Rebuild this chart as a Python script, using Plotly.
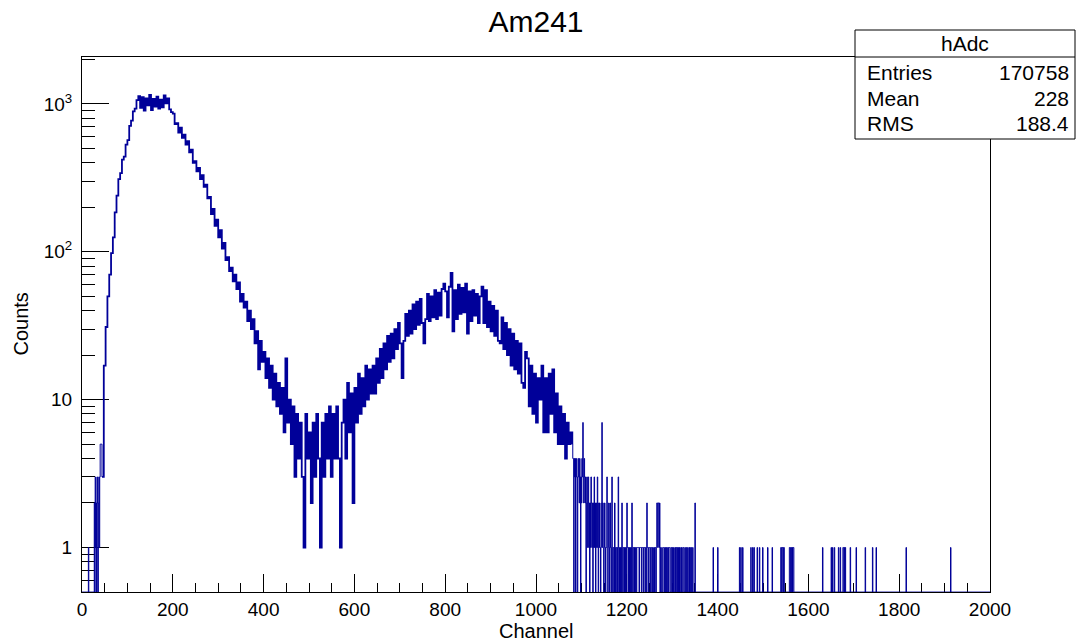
import numpy as np
import plotly.graph_objects as go

# ---------------- data ----------------
title_text = "Am241"
x_title = "Channel"
y_title = "Counts"
hist_name = "hAdc"
stat_labels = ["Entries", "Mean", "RMS"]
stat_values = ["170758", "228", "188.4"]

n_channels = 2000

# channels 0-39, one value per channel
low_counts = [0, 0, 0, 0, 0, 0, 0, 0, 0, 0,
              0, 0, 0, 0, 1, 0, 0, 0, 0, 0,
              0, 0, 0, 0, 0, 0, 0, 2, 0, 3,
              1, 2, 0, 3, 2, 0, 2, 3, 1, 3]

# channels 40-1079, one value per 4 channels
main_start = 40
main_bin_width = 4
main_counts = [
    5, 3, 17, 31, 50, 70, 98, 125, 185, 240,
    310, 340, 420, 440, 530, 570, 710, 770, 890, 930,
    1060, 1130, 940, 1110, 900, 1090, 980, 1150, 910, 1080,
    960, 1120, 930, 1070, 950, 1140, 1010, 1090, 920, 880,
    860, 730, 740, 640, 690, 590, 620, 530, 560, 470,
    490, 400, 410, 350, 370, 310, 330, 275, 285, 230,
    235, 180, 195, 150, 165, 125, 140, 105, 115, 88,
    92, 74, 78, 63, 70, 56, 62, 46, 52, 42,
    46, 34, 40, 30, 35, 24, 29, 16, 25, 18,
    21, 14, 19, 12, 17, 10, 15, 9, 13, 8,
    12, 6, 19, 7, 10, 5, 9, 3, 8, 4,
    7, 3, 1, 8, 4, 6, 2, 7, 3, 8,
    4, 1, 7, 3, 8, 4, 9, 3, 8, 4,
    9, 4, 1, 7, 10, 4, 13, 6, 11, 2,
    12, 7, 15, 8, 14, 9, 17, 10, 16, 11,
    17, 11, 19, 13, 22, 14, 24, 16, 27, 18,
    28, 19, 30, 22, 33, 24, 14, 25, 38, 27,
    40, 28, 44, 30, 46, 32, 48, 33, 24, 35,
    52, 34, 50, 36, 55, 35, 53, 37, 56, 61,
    54, 36, 58, 72, 29, 55, 35, 60, 38, 57,
    39, 61, 28, 54, 34, 55, 37, 52, 33, 50,
    58, 33, 55, 31, 46, 29, 43, 27, 40, 25,
    24, 36, 22, 33, 20, 30, 17, 28, 16, 25,
    15, 24, 13, 12, 21, 19, 9, 17, 8, 15,
    7, 14, 10, 17, 6, 14, 6, 15, 8, 16,
    6, 11, 5, 9, 5, 8, 4, 7, 5, 6,
]

# channels 1080-1349, one value per channel
edge_start = 1080
edge_counts = [
    5, 4, 4, 0, 4, 3, 4, 0, 3, 4,
    3, 0, 3, 4, 3, 2, 4, 3, 0, 3,
    2, 4, 3, 7, 3, 2, 4, 3, 2, 3,
    0, 2, 3, 1, 2, 3, 1, 2, 0, 2,
    1, 3, 2, 1, 2, 0, 2, 1, 3, 1,
    2, 0, 1, 2, 1, 3, 1, 0, 2, 1,
    2, 1, 0, 1, 2, 7, 1, 2, 1, 0,
    1, 2, 1, 0, 1, 1, 3, 1, 0, 1,
    2, 1, 0, 2, 1, 1, 0, 3, 1, 0,
    1, 1, 0, 2, 1, 0, 1, 1, 0, 1,
    0, 3, 1, 0, 1, 1, 0, 1, 0, 2,
    1, 0, 1, 1, 0, 1, 1, 0, 1, 0,
    2, 1, 1, 0, 1, 0, 1, 1, 0, 1,
    0, 2, 1, 0, 1, 1, 0, 1, 0, 1,
    1, 0, 1, 1, 1, 1, 1, 0, 1, 1,
    1, 1, 0, 1, 1, 1, 0, 1, 1, 1,
    0, 1, 1, 0, 2, 1, 1, 0, 1, 1,
    1, 0, 1, 1, 1, 0, 1, 0, 0, 1,
    1, 0, 1, 1, 0, 1, 2, 2, 1, 2,
    2, 1, 2, 0, 1, 0, 0, 1, 0, 0,
    1, 1, 1, 0, 0, 1, 0, 1, 0, 0,
    1, 0, 1, 1, 1, 0, 0, 1, 1, 0,
    1, 0, 0, 1, 0, 0, 1, 0, 1, 1,
    0, 1, 0, 0, 1, 0, 1, 0, 0, 1,
    0, 1, 0, 0, 1, 1, 0, 0, 1, 0,
    0, 1, 0, 0, 1, 0, 0, 1, 0, 1,
    0, 0, 1, 0, 0, 1, 0, 0, 0, 0,
]

# sparse far tail (all other channels are empty)
tail_channels = [1350, 1390, 1400, 1448, 1451, 1455, 1473, 1477, 1480, 1487,
                 1492, 1499, 1510, 1520, 1539, 1540, 1542, 1543, 1545, 1546,
                 1558, 1559, 1561, 1562, 1564, 1566, 1567, 1631, 1650, 1653,
                 1657, 1666, 1670, 1676, 1677, 1679, 1681, 1692, 1705, 1725,
                 1741, 1749, 1815, 1913]
tail_counts = [2, 1, 1, 1, 1, 1, 1, 1, 1, 1,
               1, 1, 1, 1, 1, 1, 1, 1, 1, 1,
               1, 1, 1, 1, 1, 1, 1, 1, 1, 1,
               1, 1, 1, 1, 1, 1, 1, 1, 1, 1,
               1, 1, 1, 1]

x_tickvals = [0, 200, 400, 600, 800, 1000, 1200, 1400, 1600, 1800, 2000]
x_ticktext = ["0", "200", "400", "600", "800", "1000", "1200", "1400", "1600", "1800", "2000"]
y_tickvals = [1, 10, 100, 1000]
y_ticktext = ["1", "10", "10<sup>2</sup>", "10<sup>3</sup>"]
y_minor = [0.6, 0.7, 0.8, 0.9, 2, 3, 4, 5, 6, 7, 8, 9,
           20, 30, 40, 50, 60, 70, 80, 90,
           200, 300, 400, 500, 600, 700, 800, 900, 2000]

# ---------------- assemble histogram ----------------
counts = np.zeros(n_channels)
counts[0:len(low_counts)] = low_counts
main_end = main_start + main_bin_width * len(main_counts)
counts[main_start:main_end] = np.repeat(main_counts, main_bin_width)
counts[edge_start:edge_start + len(edge_counts)] = edge_counts
counts[np.array(tail_channels)] = tail_counts

y_min, y_max = 0.5, 2077.0
edges = np.arange(n_channels + 1)
y_draw = np.where(counts > 0, counts, y_min)
y_draw = np.append(y_draw, y_draw[-1])

FONT = "Liberation Sans, Arial, Helvetica, sans-serif"
L, R, T, B = 82, 990, 57, 592
W, H = 1081, 641
LINE_COLOR = "#000099"


def pxx(x):
    return (x - L) / (R - L)


def pxy(y):
    return (B - y) / (B - T)


fig = go.Figure()
# dense part (coarser bins) drawn a bit heavier so its noise band reads as solid,
# single-channel parts drawn thin
segments = [(0, 44, 1.0), (44, main_end, 1.8), (main_end, n_channels, 1.0)]
for a, b, w in segments:
    fig.add_trace(go.Scatter(
        x=edges[a:b + 1], y=y_draw[a:b + 1], mode="lines",
        line=dict(shape="hv", color=LINE_COLOR, width=w, simplify=False),
        hoverinfo="skip", showlegend=False,
    ))

fig.update_layout(
    width=W, height=H,
    margin=dict(l=L, r=W - R, t=T, b=H - B, pad=0, autoexpand=False),
    paper_bgcolor="white", plot_bgcolor="white",
    font=dict(family=FONT, color="black", size=19),
    title=dict(text=title_text, x=0.5, xref="paper", y=1 - 21 / H, yref="container",
               xanchor="center", yanchor="middle", font=dict(size=30, family=FONT)),
    showlegend=False,
)

fig.update_xaxes(
    range=[0, 2000], showgrid=False, zeroline=False, automargin=False,
    showline=True, linecolor="black", linewidth=1, mirror=True,
    ticks="inside", ticklen=18, tickwidth=1, tickcolor="black",
    tickvals=x_tickvals, ticktext=x_ticktext,
    tickfont=dict(size=19), ticklabelstandoff=0,
    minor=dict(ticks="inside", dtick=50, ticklen=9, tickwidth=1, tickcolor="black", showgrid=False),
    layer="below traces",
)
fig.update_yaxes(
    type="log", range=[np.log10(y_min), np.log10(y_max)],
    showgrid=False, zeroline=False, automargin=False,
    showline=True, linecolor="black", linewidth=1, mirror=True,
    ticks="inside", ticklen=27, tickwidth=1, tickcolor="black",
    tickvals=y_tickvals, ticktext=y_ticktext,
    tickfont=dict(size=19), ticklabelstandoff=5,
    minor=dict(ticks="inside", tickvals=y_minor, ticklen=13, tickwidth=1, tickcolor="black", showgrid=False),
    layer="below traces",
)

# axis titles
fig.add_annotation(text=x_title, xref="paper", yref="paper", x=0.5, y=pxy(631),
                   xanchor="center", yanchor="middle", showarrow=False, font=dict(size=20))
fig.add_annotation(text=y_title, xref="paper", yref="paper", x=pxx(20), y=0.5,
                   xanchor="center", yanchor="middle", textangle=-90, showarrow=False,
                   font=dict(size=20))

# statistics box
bx0, bx1, by0, by1, bhead = 855, 1075, 30, 139, 57
fig.add_shape(type="rect", xref="paper", yref="paper",
              x0=pxx(bx0), x1=pxx(bx1), y0=pxy(by1), y1=pxy(by0),
              fillcolor="white", line=dict(color="black", width=1), layer="above")
fig.add_shape(type="line", xref="paper", yref="paper",
              x0=pxx(bx0), x1=pxx(bx1), y0=pxy(bhead), y1=pxy(bhead),
              line=dict(color="black", width=1), layer="above")
fig.add_annotation(text=hist_name, xref="paper", yref="paper",
                   x=pxx((bx0 + bx1) / 2), y=pxy(44), xanchor="center", yanchor="middle",
                   showarrow=False, font=dict(size=21))
row_y = [72, 98, 124]
for lab, val, yy in zip(stat_labels, stat_values, row_y):
    fig.add_annotation(text=lab, xref="paper", yref="paper", x=pxx(865), y=pxy(yy),
                       xanchor="left", yanchor="middle", showarrow=False, font=dict(size=21))
    fig.add_annotation(text=val, xref="paper", yref="paper", x=pxx(1071), y=pxy(yy),
                       xanchor="right", yanchor="middle", showarrow=False, font=dict(size=21))

fig.write_html("out.html")
